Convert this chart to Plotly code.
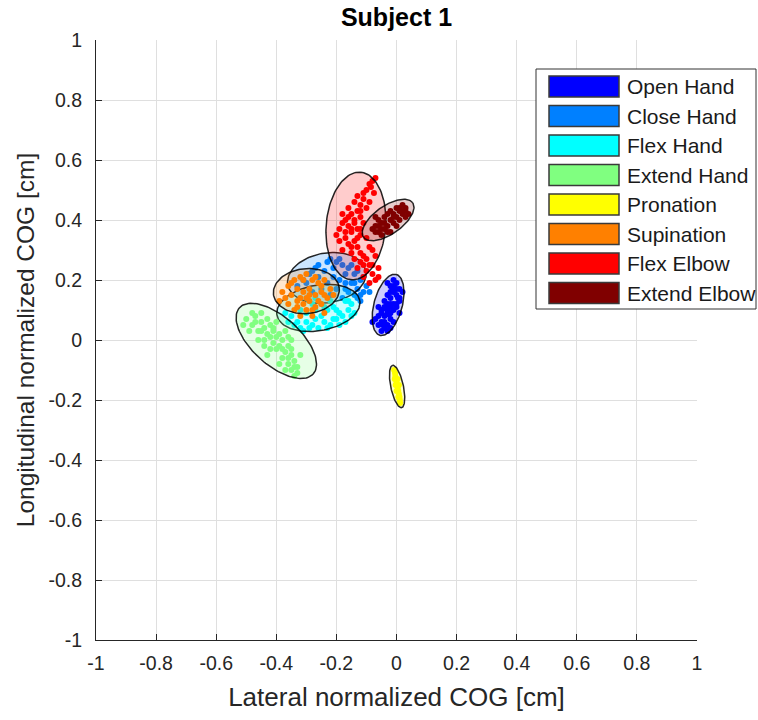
import numpy as np
import plotly.graph_objects as go

# ---------------- data ----------------
names = ["Open Hand", "Close Hand", "Flex Hand", "Extend Hand",
         "Pronation", "Supination", "Flex Elbow", "Extend Elbow"]
colors = ["rgb(0,0,255)", "rgb(0,128,255)", "rgb(0,255,255)", "rgb(128,255,128)",
          "rgb(255,255,0)", "rgb(255,128,0)", "rgb(255,0,0)", "rgb(128,0,0)"]
fills = ["rgba(0,0,255,0.2)", "rgba(0,128,255,0.2)", "rgba(0,255,255,0.2)", "rgba(128,255,128,0.2)",
         "rgba(255,255,0,0.2)", "rgba(255,128,0,0.2)", "rgba(255,0,0,0.2)", "rgba(128,0,0,0.2)"]

# ellipse parameters: centre x, centre y, semi-major, semi-minor, angle (deg)
ell_cx = [-0.028, -0.232, -0.26, -0.40, 0.002, -0.30, -0.135, -0.028]
ell_cy = [0.117, 0.207, 0.107, -0.003, -0.155, 0.163, 0.38, 0.40]
ell_a = [0.105, 0.132, 0.14, 0.165, 0.072, 0.11, 0.18, 0.10]
ell_b = [0.047, 0.083, 0.076, 0.080, 0.021, 0.075, 0.099, 0.047]
ell_ang = [75, 10, 10, -42, 102, 5, 85, 35]

open_x = [-0.01, 0.0, -0.02, 0.01, -0.01, -0.03, 0.0, -0.02, 0.01, -0.04, -0.03, 0.0, -0.02, -0.05, -0.01,
          -0.03, -0.06, -0.04, -0.02, -0.05, -0.03, -0.07, -0.08, -0.04, -0.05, -0.02, 0.01, -0.01, -0.06, 0.02,
          -0.015, -0.035, 0.005, -0.025, -0.045,
          -0.03, -0.01, 0.0, -0.02, -0.04, -0.01, -0.03, 0.0, -0.05, -0.02, -0.04, -0.06, -0.03, 0.01, -0.02]
open_y = [0.20, 0.19, 0.18, 0.17, 0.16, 0.15, 0.15, 0.14, 0.13, 0.13, 0.12, 0.12, 0.11, 0.10, 0.10,
          0.09, 0.08, 0.08, 0.07, 0.06, 0.05, 0.07, 0.06, 0.04, 0.03, 0.04, 0.09, 0.06, 0.11, 0.16,
          0.175, 0.105, 0.14, 0.085, 0.05,
          0.19, 0.18, 0.17, 0.16, 0.11, 0.12, 0.10, 0.11, 0.09, 0.09, 0.06, 0.05, 0.03, 0.14, 0.12]

close_x = [-0.22, -0.20, -0.18, -0.16, -0.21, -0.14, -0.17, -0.12, -0.15, -0.13, -0.11, -0.14, -0.12, -0.19,
           -0.24, -0.27, -0.29, -0.26, -0.30, -0.23, -0.20, -0.25, -0.28, -0.22, -0.18, -0.16, -0.31, -0.33,
           -0.10, -0.17,
           -0.19, -0.23, -0.15, -0.13, -0.11, -0.14, -0.12, -0.26, -0.28, -0.21, -0.17, -0.09, -0.13]
close_y = [0.27, 0.26, 0.25, 0.24, 0.24, 0.22, 0.22, 0.20, 0.19, 0.17, 0.16, 0.15, 0.13, 0.20,
           0.23, 0.24, 0.22, 0.21, 0.19, 0.19, 0.17, 0.17, 0.16, 0.15, 0.14, 0.16, 0.20, 0.18,
           0.18, 0.19,
           0.27, 0.26, 0.25, 0.23, 0.21, 0.19, 0.15, 0.25, 0.23, 0.21, 0.17, 0.16, 0.14]

flexh_x = [-0.34, -0.32, -0.30, -0.28, -0.26, -0.24, -0.22, -0.20, -0.18, -0.16, -0.15, -0.17, -0.30,
           -0.27, -0.25, -0.23, -0.21, -0.35, -0.29, -0.19, -0.31, -0.25, -0.22, -0.14, -0.27, -0.36,
           -0.33, -0.29, -0.27, -0.23, -0.21, -0.19, -0.17, -0.20, -0.24, -0.16, -0.32, -0.28, -0.37, -0.15]
flexh_y = [0.05, 0.04, 0.06, 0.05, 0.04, 0.06, 0.05, 0.07, 0.08, 0.10, 0.12, 0.13, 0.09,
           0.10, 0.12, 0.10, 0.11, 0.08, 0.13, 0.05, 0.03, 0.08, 0.13, 0.09, 0.14, 0.06,
           0.06, 0.04, 0.07, 0.04, 0.07, 0.09, 0.06, 0.10, 0.11, 0.13, 0.10, 0.12, 0.09, 0.08]

exth_x = [-0.50, -0.47, -0.48, -0.45, -0.44, -0.42, -0.46, -0.43, -0.41, -0.40, -0.44, -0.38, -0.41, -0.39,
          -0.36, -0.42, -0.37, -0.35, -0.38, -0.34, -0.36, -0.33, -0.35, -0.34, -0.49, -0.46, -0.40, -0.37,
          -0.43, -0.32, -0.45, -0.39, -0.36,
          -0.48, -0.47, -0.43, -0.45, -0.42, -0.39, -0.40, -0.38, -0.35, -0.36, -0.34, -0.37, -0.33, -0.44,
          -0.41, -0.51, -0.35]
exth_y = [0.07, 0.08, 0.05, 0.06, 0.04, 0.05, 0.03, 0.02, 0.03, 0.01, 0.00, 0.00, -0.01, -0.02,
          -0.02, -0.03, -0.04, -0.05, -0.06, -0.07, -0.08, -0.09, -0.10, -0.12, 0.03, 0.00, 0.06, 0.03,
          -0.05, -0.05, 0.09, -0.08, 0.01,
          0.09, 0.06, 0.07, 0.03, 0.01, 0.02, -0.03, -0.03, -0.03, -0.06, -0.09, -0.10, -0.11, -0.02,
          0.04, 0.05, 0.00]

pron_x = [-0.008, -0.005, -0.004, -0.002, 0.0, 0.002, 0.004, 0.006, 0.008, 0.010, 0.011, -0.006, 0.008,
          0.0, 0.004, 0.012, -0.003, 0.006]
pron_y = [-0.10, -0.11, -0.12, -0.13, -0.14, -0.15, -0.16, -0.17, -0.18, -0.19, -0.20, -0.13, -0.15,
          -0.17, -0.13, -0.21, -0.15, -0.19]

sup_x = [-0.36, -0.34, -0.32, -0.30, -0.28, -0.26, -0.24, -0.33, -0.31, -0.29, -0.27, -0.25, -0.23, -0.35,
         -0.33, -0.31, -0.29, -0.27, -0.25, -0.38, -0.36, -0.34, -0.30, -0.22, -0.28, -0.32, -0.37, -0.24,
         -0.35, -0.31, -0.27, -0.25, -0.29, -0.32, -0.26, -0.24, -0.33, -0.28, -0.39, -0.21, -0.30]
sup_y = [0.18, 0.20, 0.21, 0.22, 0.20, 0.19, 0.20, 0.17, 0.16, 0.17, 0.15, 0.16, 0.14, 0.15,
         0.13, 0.12, 0.13, 0.11, 0.12, 0.16, 0.12, 0.10, 0.10, 0.17, 0.08, 0.08, 0.14, 0.09,
         0.19, 0.20, 0.21, 0.18, 0.15, 0.14, 0.13, 0.15, 0.11, 0.10, 0.13, 0.15, 0.14]

flexe_x = [-0.08, -0.085, -0.10, -0.075, -0.11, -0.09, -0.12, -0.10, -0.13, -0.15, -0.12, -0.17, -0.14,
           -0.11, -0.16, -0.13, -0.19, -0.15, -0.12, -0.17, -0.14, -0.10, -0.16, -0.13, -0.18, -0.15, -0.11,
           -0.14, -0.12, -0.09, -0.13, -0.10, -0.08, -0.11, -0.07, -0.09, -0.06, -0.16, -0.18, -0.20, -0.13,
           -0.09, -0.07,
           -0.09, -0.07, -0.11, -0.14, -0.16, -0.18, -0.15, -0.17, -0.12, -0.13, -0.15, -0.12, -0.10, -0.08,
           -0.06, -0.11, -0.14, -0.19, -0.12, -0.08]
flexe_y = [0.53, 0.51, 0.50, 0.49, 0.47, 0.46, 0.45, 0.44, 0.43, 0.42, 0.41, 0.40, 0.40,
           0.39, 0.38, 0.37, 0.37, 0.36, 0.35, 0.34, 0.33, 0.34, 0.32, 0.31, 0.30, 0.29, 0.28,
           0.27, 0.26, 0.25, 0.24, 0.23, 0.22, 0.21, 0.20, 0.19, 0.24, 0.44, 0.42, 0.35, 0.48,
           0.31, 0.28,
           0.52, 0.54, 0.49, 0.46, 0.41, 0.39, 0.37, 0.36, 0.37, 0.34, 0.31, 0.29, 0.27, 0.25,
           0.21, 0.25, 0.39, 0.33, 0.43, 0.30]

exte_x = [-0.08, -0.07, -0.06, -0.05, -0.04, -0.06, -0.03, -0.02, -0.01, 0.00, 0.01, 0.02, 0.03, 0.02,
          0.00, -0.02, -0.04, -0.05, -0.03, 0.04, -0.01, -0.07, 0.01, -0.02, 0.03,
          -0.06, -0.04, -0.01, 0.01, 0.02, -0.03, -0.05, 0.00, 0.03, -0.07]
exte_y = [0.37, 0.38, 0.36, 0.39, 0.41, 0.40, 0.38, 0.40, 0.42, 0.41, 0.43, 0.42, 0.44, 0.45,
          0.44, 0.43, 0.37, 0.35, 0.36, 0.42, 0.39, 0.41, 0.40, 0.36, 0.41,
          0.38, 0.39, 0.41, 0.44, 0.43, 0.42, 0.37, 0.38, 0.43, 0.36]

pts_x = [open_x, close_x, flexh_x, exth_x, pron_x, sup_x, flexe_x, exte_x]
pts_y = [open_y, close_y, flexh_y, exth_y, pron_y, sup_y, flexe_y, exte_y]

tick_vals = [-1, -0.8, -0.6, -0.4, -0.2, 0, 0.2, 0.4, 0.6, 0.8, 1]
tick_text = ["-1", "-0.8", "-0.6", "-0.4", "-0.2", "0", "0.2", "0.4", "0.6", "0.8", "1"]

# ---------------- figure ----------------
W, H = 758, 720
ML, MR, MT, MB = 96, 61, 40, 80
PW, PH = W - ML - MR, H - MT - MB
FONT = "Liberation Sans, Arial, Helvetica, sans-serif"
TXT = "#262626"

fig = go.Figure()
t = np.linspace(0, 2 * np.pi, 120)
for i in range(len(names)):
    fig.add_trace(go.Scatter(x=pts_x[i], y=pts_y[i], mode="markers",
                             marker=dict(color=colors[i], size=6, line=dict(width=0)),
                             showlegend=False, hoverinfo="skip"))
    th = np.deg2rad(ell_ang[i])
    ex = ell_cx[i] + ell_a[i] * np.cos(t) * np.cos(th) - ell_b[i] * np.sin(t) * np.sin(th)
    ey = ell_cy[i] + ell_a[i] * np.cos(t) * np.sin(th) + ell_b[i] * np.sin(t) * np.cos(th)
    fig.add_trace(go.Scatter(x=ex, y=ey, mode="lines", fill="toself", fillcolor=fills[i],
                             line=dict(color="rgba(0,0,0,0.85)", width=1.5),
                             name=names[i], showlegend=False, hoverinfo="skip"))


def px2paper_x(px):
    return (px - ML) / PW


def px2paper_y(py):
    return (H - MB - py) / PH


shapes = []
annotations = []
# legend box
shapes.append(dict(type="rect", xref="paper", yref="paper",
                   x0=px2paper_x(536), x1=px2paper_x(756), y0=px2paper_y(309), y1=px2paper_y(69),
                   line=dict(color="#333333", width=1), fillcolor="white", layer="above"))
row0, pitch = 86.5, 29.5
for i, nm in enumerate(names):
    yc = row0 + i * pitch
    shapes.append(dict(type="rect", xref="paper", yref="paper",
                       x0=px2paper_x(549), x1=px2paper_x(619),
                       y0=px2paper_y(yc + 10.5), y1=px2paper_y(yc - 10.5),
                       line=dict(color="#3a3a3a", width=1.5), fillcolor=colors[i], layer="above"))
    annotations.append(dict(xref="paper", yref="paper", x=px2paper_x(625), y=px2paper_y(yc),
                            text=nm, showarrow=False, xanchor="left", yanchor="middle",
                            font=dict(family=FONT, size=21, color="#1a1a1a")))

axis_common = dict(range=[-1, 1], tickvals=tick_vals, ticktext=tick_text, showgrid=True,
                   gridcolor="#dfdfdf", gridwidth=1, zeroline=False, showline=True,
                   linecolor=TXT, linewidth=1, ticks="inside", ticklen=6, tickcolor=TXT,
                   mirror=False, tickfont=dict(family=FONT, size=19.5, color=TXT), fixedrange=True)

fig.update_layout(
    width=W, height=H,
    margin=dict(l=ML, r=MR, t=MT, b=MB),
    paper_bgcolor="white", plot_bgcolor="white",
    title=dict(text="<b>Subject 1</b>", x=(ML + PW / 2) / W, xanchor="center",
               y=1 - 17 / H, yanchor="middle",
               font=dict(family=FONT, size=25, color="#000000")),
    xaxis=dict(**axis_common, ticklabelstandoff=6,
               title=dict(text="Lateral normalized COG [cm]",
                          font=dict(family=FONT, size=26, color=TXT), standoff=14)),
    yaxis=dict(**axis_common, ticklabelstandoff=9,
               title=dict(text="Longitudinal normalized COG [cm]",
                          font=dict(family=FONT, size=24.5, color=TXT), standoff=6)),
    shapes=shapes, annotations=annotations, showlegend=False,
)

fig.write_html("out.html")
